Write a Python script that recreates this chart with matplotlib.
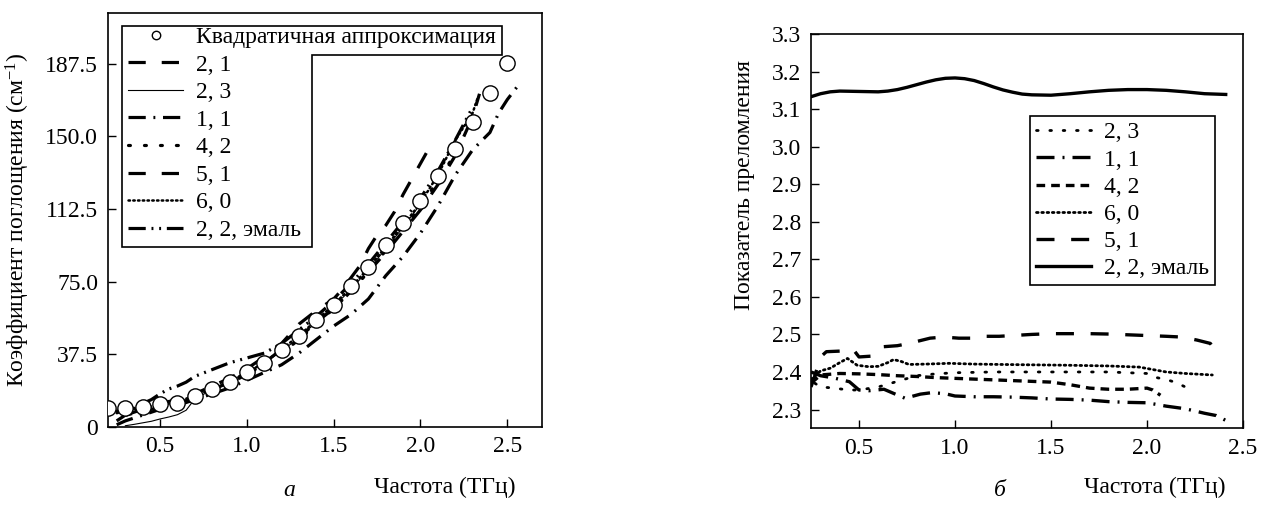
import matplotlib
matplotlib.use("Agg")
import matplotlib.pyplot as plt
from matplotlib.patches import Polygon

plt.rcParams['font.family'] = ['Liberation Serif', 'DejaVu Serif']
plt.rcParams['mathtext.fontset'] = 'custom'
plt.rcParams['mathtext.rm'] = 'Liberation Serif'
plt.rcParams['mathtext.it'] = 'Liberation Serif:italic'
FS = 17

# ---------------- Panel a: absorption coefficient ----------------
quad_x = [0.2, 0.3, 0.4, 0.5, 0.6, 0.7, 0.8, 0.9, 1.0, 1.1, 1.2, 1.3, 1.4,
          1.5, 1.6, 1.7, 1.8, 1.9, 2.0, 2.1, 2.2, 2.3, 2.4, 2.5]
quad_y = [9.7, 9.8, 10.2, 11.8, 12.5, 15.9, 19.4, 23.3, 28.5, 32.8, 39.7, 47.0,
          55.0, 63.0, 72.5, 82.5, 94.0, 105.3, 116.5, 129.5, 143.6, 157.4, 172.6, 188.0]

a21_x = [0.25, 0.3, 0.4, 0.5, 0.6, 0.7, 0.8, 0.9, 1.0, 1.1, 1.2, 1.3, 1.4, 1.5,
         1.6, 1.7, 1.8, 1.9, 2.0, 2.1, 2.2, 2.3, 2.34]
a21_y = [3, 6, 8, 10, 12, 15, 19, 23, 27, 33, 40, 46, 54, 61, 70, 80, 90, 101,
         112, 125, 140, 160, 172]

a23_x = [0.3, 0.35, 0.4, 0.45, 0.5, 0.55, 0.6, 0.65, 0.68, 0.7, 0.8, 0.9, 1.0,
         1.1, 1.2, 1.3, 1.4, 1.5, 1.6, 1.7, 1.8, 1.9, 2.0]
a23_y = [0.5, 1.2, 2.0, 2.8, 4.0, 5.0, 6.2, 8.5, 12, 14.5, 19, 23.5, 28, 33, 39,
         46, 54, 62, 71, 81, 92, 103, 115]

a11_x = [0.25, 0.3, 0.4, 0.5, 0.6, 0.7, 0.8, 0.9, 1.0, 1.1, 1.2, 1.3, 1.4, 1.5,
         1.6, 1.7, 1.8, 1.85, 1.9, 2.0, 2.1, 2.2, 2.3, 2.4, 2.45, 2.5, 2.56]
a11_y = [1, 3, 6, 9, 11, 14, 17, 20, 24, 28, 32, 38, 45, 52, 58, 66, 78, 83, 88,
         100, 114, 130, 143, 152, 162, 169, 176]

a42_x = [0.25, 0.3, 0.4, 0.5, 0.6, 0.7, 0.8, 0.9, 1.0, 1.1, 1.2, 1.3, 1.4, 1.5,
         1.6, 1.7, 1.8, 1.9, 2.0, 2.1, 2.2]
a42_y = [8, 9, 10, 11.5, 12.5, 15, 18.5, 22.5, 27, 32, 38, 45, 53, 61, 70, 80,
         91, 102, 114, 127, 141]

a51_x = [0.3, 0.4, 0.5, 0.6, 0.7, 0.8, 0.9, 1.0, 1.1, 1.2, 1.3, 1.4, 1.5, 1.55,
         1.6, 1.65, 1.7, 1.75, 1.8, 1.85, 1.9, 1.95, 2.0, 2.05, 2.1]
a51_y = [6, 9, 12, 14, 17, 21, 25, 30, 36, 43, 53, 60, 66, 71, 77, 83, 92, 99,
         104, 111, 120, 128, 136, 144, 146]

a60_x = [0.25, 0.3, 0.4, 0.5, 0.6, 0.7, 0.8, 0.9, 1.0, 1.1, 1.2, 1.3, 1.4, 1.5,
         1.6, 1.7, 1.8, 1.9, 2.0, 2.1, 2.2, 2.3, 2.33]
a60_y = [7, 8, 9.5, 11, 13, 16, 19.5, 23.5, 28, 33, 40, 47, 55, 63, 72, 82, 93,
         104, 115.6, 130, 148, 162, 170]

a22_x = [0.4, 0.45, 0.5, 0.55, 0.6, 0.65, 0.7, 0.8, 0.9, 1.0, 1.1, 1.2, 1.3,
         1.4, 1.5, 1.6, 1.7, 1.8, 1.9, 2.0, 2.1, 2.2, 2.3]
a22_y = [12, 14, 17, 19.5, 21, 23, 26, 29.5, 33, 35.5, 38, 43, 50, 57, 65, 74,
         84, 95, 106, 118, 132, 148, 165]

a_yticks = [0, 37.5, 75.0, 112.5, 150.0, 187.5]
a_yticklabels = ['0', '37.5', '75.0', '112.5', '150.0', '187.5']
xticks = [0.5, 1.0, 1.5, 2.0, 2.5]
xticklabels = ['0.5', '1.0', '1.5', '2.0', '2.5']

# ---------------- Panel b: refractive index ----------------
b23_x = [0.27, 0.3, 0.35, 0.4, 0.45, 0.5, 0.6, 0.7, 0.8, 0.9, 1.0, 1.2, 1.4,
         1.6, 1.8, 1.9, 2.0, 2.05, 2.1, 2.15, 2.2]
b23_y = [2.37, 2.36, 2.358, 2.355, 2.352, 2.352, 2.36, 2.375, 2.39, 2.395, 2.398,
         2.40, 2.40, 2.40, 2.40, 2.398, 2.396, 2.385, 2.38, 2.372, 2.36]

b11_x = [0.25, 0.3, 0.37, 0.45, 0.5, 0.55, 0.63, 0.68, 0.74, 0.82, 0.88, 0.95,
         1.0, 1.1, 1.2, 1.3, 1.4, 1.5, 1.6, 1.7, 1.8, 1.9, 2.0, 2.1, 2.2, 2.3,
         2.36, 2.43]
b11_y = [2.40, 2.39, 2.384, 2.374, 2.352, 2.35, 2.354, 2.343, 2.33, 2.341, 2.345,
         2.342, 2.336, 2.334, 2.334, 2.333, 2.331, 2.328, 2.327, 2.325, 2.321,
         2.319, 2.318, 2.309, 2.302, 2.29, 2.284, 2.266]

b42_x = [0.25, 0.3, 0.4, 0.5, 0.6, 0.7, 0.8, 0.9, 1.0, 1.1, 1.2, 1.3, 1.4, 1.5,
         1.6, 1.7, 1.8, 1.9, 2.0, 2.03, 2.07]
b42_y = [2.37, 2.392, 2.396, 2.395, 2.393, 2.39, 2.388, 2.385, 2.383, 2.381,
         2.379, 2.377, 2.375, 2.373, 2.366, 2.357, 2.354, 2.354, 2.357, 2.352, 2.338]

b60_x = [0.25, 0.3, 0.35, 0.4, 0.44, 0.49, 0.55, 0.6, 0.65, 0.68, 0.72, 0.76,
         0.85, 0.97, 1.1, 1.24, 1.4, 1.58, 1.8, 1.96, 2.1, 2.2, 2.34]
b60_y = [2.38, 2.403, 2.41, 2.425, 2.436, 2.418, 2.414, 2.415, 2.425, 2.433,
         2.428, 2.42, 2.421, 2.423, 2.421, 2.42, 2.419, 2.418, 2.416, 2.413,
         2.40, 2.396, 2.392]

b51_x = [0.25, 0.27, 0.3, 0.33, 0.42, 0.47, 0.5, 0.56, 0.62, 0.7, 0.76, 0.87,
         0.94, 1.02, 1.09, 1.15, 1.23, 1.3, 1.4, 1.5, 1.6, 1.7, 1.8, 1.9, 2.0,
         2.1, 2.18, 2.26, 2.33, 2.37]
b51_y = [2.36, 2.39, 2.44, 2.454, 2.456, 2.46, 2.44, 2.442, 2.467, 2.47, 2.476,
         2.49, 2.493, 2.49, 2.49, 2.495, 2.495, 2.497, 2.50, 2.502, 2.502, 2.502,
         2.501, 2.499, 2.497, 2.495, 2.493, 2.485, 2.476, 2.445]

b22_x = [0.25, 0.3, 0.35, 0.4, 0.5, 0.6, 0.65, 0.7, 0.75, 0.8, 0.85, 0.9, 0.95,
         1.0, 1.05, 1.1, 1.15, 1.2, 1.25, 1.3, 1.35, 1.4, 1.5, 1.6, 1.7, 1.8,
         1.9, 2.0, 2.1, 2.2, 2.3, 2.41]
b22_y = [3.133, 3.141, 3.146, 3.148, 3.147, 3.146, 3.148, 3.152, 3.158, 3.165,
         3.172, 3.178, 3.182, 3.183, 3.181, 3.176, 3.168, 3.159, 3.151, 3.145,
         3.140, 3.138, 3.137, 3.141, 3.146, 3.150, 3.152, 3.152, 3.150, 3.146,
         3.141, 3.139]

b_yticks = [2.3, 2.4, 2.5, 2.6, 2.7, 2.8, 2.9, 3.0, 3.1, 3.2, 3.3]
b_yticklabels = ['2.3', '2.4', '2.5', '2.6', '2.7', '2.8', '2.9', '3.0', '3.1', '3.2', '3.3']

# ---------------- styles ----------------
LS_LONGDASH = (0, (5.4, 5.0))
LS_DASHDOT = (0, (5.4, 2.4, 0.6, 2.4))
LS_SPARSE = (0, (0.6, 4.4))
LS_DENSE = (0, (0.6, 1.3))
LS_DASHDOTDOT = (0, (5.4, 1.8, 0.6, 1.8, 0.6, 1.8))
LS_SHORTDASH = (0, (2.6, 1.8))
K = 'black'

fig = plt.figure(figsize=(12.75, 5.05), dpi=100)
W, H = 1275, 505
axA = fig.add_axes([108 / W, 1 - 426.7 / H, 434 / W, 414.2 / H])
axB = fig.add_axes([811 / W, 1 - 428.3 / H, 432 / W, 394.3 / H])

# panel a
hq, = axA.plot(quad_x, quad_y, linestyle='none', marker='o', ms=11, mfc='white',
               mec=K, mew=1.0, zorder=5)
h21, = axA.plot(a21_x, a21_y, color=K, lw=2.3, ls=LS_LONGDASH)
h23, = axA.plot(a23_x, a23_y, color=K, lw=0.8, ls='-')
h11, = axA.plot(a11_x, a11_y, color=K, lw=2.3, ls=LS_DASHDOT)
h42, = axA.plot(a42_x, a42_y, color=K, lw=2.3, ls=LS_SPARSE, dash_capstyle='round')
h51, = axA.plot(a51_x, a51_y, color=K, lw=2.3, ls=LS_LONGDASH)
h60, = axA.plot(a60_x, a60_y, color=K, lw=1.8, ls=LS_DENSE, dash_capstyle='round')
h22, = axA.plot(a22_x, a22_y, color=K, lw=2.3, ls=LS_DASHDOTDOT)

axA.set_xlim(0.2, 2.7)
axA.set_ylim(0, 214)
axA.set_xticks(xticks)
axA.set_xticklabels(xticklabels)
axA.set_yticks(a_yticks)
axA.set_yticklabels(a_yticklabels)
axA.set_ylabel('Коэффициент поглощения (см$^{-1}$)', fontsize=FS)
axA.yaxis.set_label_coords(-0.175, 0.5)
axA.set_xlabel('Частота (ТГц)', fontsize=FS)
axA.xaxis.set_label_coords(0.776, -0.12)

# stepped legend frame for panel a
poly = Polygon([(0.032, 0.967), (0.907, 0.967), (0.907, 0.897), (0.469, 0.897),
                (0.469, 0.433), (0.032, 0.433)], closed=True, transform=axA.transAxes,
               facecolor='white', edgecolor=K, lw=1.2, zorder=8)
axA.add_patch(poly)
legA = axA.legend([hq, h21, h23, h11, h42, h51, h60, h22],
                  ['Квадратичная аппроксимация', '2, 1', '2, 3', '1, 1', '4, 2',
                   '5, 1', '6, 0', '2, 2, эмаль'],
                  loc='upper left', bbox_to_anchor=(0.046, 0.966), borderaxespad=0,
                  borderpad=0, frameon=False, fontsize=FS, handlelength=2.35,
                  handletextpad=0.55, labelspacing=0.255, markerscale=0.55)
legA.set_zorder(9)

# panel b
g23, = axB.plot(b23_x, b23_y, color=K, lw=2.0, ls=(0, (0.6, 4.2)), dash_capstyle='round')
g11, = axB.plot(b11_x, b11_y, color=K, lw=2.4, ls=LS_DASHDOT)
g42, = axB.plot(b42_x, b42_y, color=K, lw=2.4, ls=LS_SHORTDASH)
g60, = axB.plot(b60_x, b60_y, color=K, lw=2.0, ls=LS_DENSE, dash_capstyle='round')
g51, = axB.plot(b51_x, b51_y, color=K, lw=2.4, ls=LS_LONGDASH)
g22, = axB.plot(b22_x, b22_y, color=K, lw=2.4, ls='-')

axB.set_xlim(0.25, 2.5)
axB.set_ylim(2.25, 3.3)
axB.set_xticks(xticks)
axB.set_xticklabels(xticklabels)
axB.set_yticks(b_yticks)
axB.set_yticklabels(b_yticklabels)
axB.set_ylabel('Показатель преломления', fontsize=FS)
axB.yaxis.set_label_coords(-0.13, 0.617)
axB.set_xlabel('Частота (ТГц)', fontsize=FS)
axB.xaxis.set_label_coords(0.796, -0.123)

legB = axB.legend([g23, g11, g42, g60, g51, g22],
                  ['2, 3', '1, 1', '4, 2', '6, 0', '5, 1', '2, 2, эмаль'],
                  loc='upper left', bbox_to_anchor=(0.507, 0.792), borderaxespad=0,
                  borderpad=0.25, fancybox=False, fontsize=FS, handlelength=2.35,
                  handletextpad=0.55, labelspacing=0.24, framealpha=1)
legB.get_frame().set_edgecolor(K)
legB.get_frame().set_linewidth(1.2)

for ax in (axA, axB):
    ax.tick_params(direction='in', length=6, width=1.0, labelsize=FS, pad=7,
                   top=False, right=False)
    for sp in ax.spines.values():
        sp.set_linewidth(1.2)
        sp.set_color(K)

fig.text(289 / W, 1 - 490 / H, 'а', fontsize=FS, style='italic', ha='center', va='center')
fig.text(1000 / W, 1 - 490 / H, 'б', fontsize=FS, style='italic', ha='center', va='center')

fig.savefig('out.png', dpi=100, facecolor='white')
